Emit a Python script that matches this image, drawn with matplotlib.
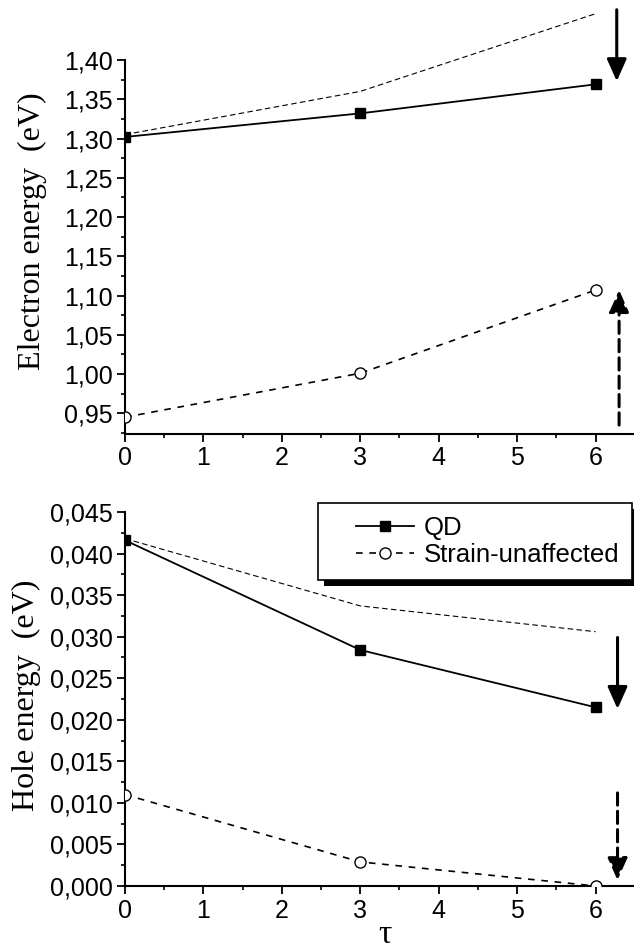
import matplotlib
matplotlib.use("Agg")
import matplotlib.pyplot as plt
from matplotlib.ticker import FuncFormatter, MultipleLocator
from matplotlib.patches import Rectangle
from matplotlib.transforms import IdentityTransform
from matplotlib.lines import Line2D
from matplotlib.legend_handler import HandlerLine2D

# ---------------- data ----------------
tau = [0, 3, 6]
elec_qd = [1.302, 1.332, 1.369]
elec_unaff = [0.945, 1.001, 1.107]
elec_ref = [1.305, 1.360, 1.459]

hole_qd = [0.0416, 0.0284, 0.0215]
hole_unaff = [0.0110, 0.0029, 0.0000]
hole_ref = [0.0418, 0.0337, 0.0306]

xticks = [0, 1, 2, 3, 4, 5, 6]
elec_yticks = [0.95, 1.00, 1.05, 1.10, 1.15, 1.20, 1.25, 1.30, 1.35, 1.40]
hole_yticks = [0.000, 0.005, 0.010, 0.015, 0.020, 0.025, 0.030, 0.035, 0.040, 0.045]
legend_labels = ["QD", "Strain-unaffected"]

SANS = "Liberation Sans"
SERIF = "Liberation Serif"
plt.rcParams['font.family'] = [SANS, 'DejaVu Sans']

W, H = 634, 952
fig = plt.figure(figsize=(W / 100, H / 100), dpi=100)

def px_axes(left, right, top, bottom):
    return fig.add_axes([left / W, 1 - bottom / H, (right - left) / W, (bottom - top) / H])

ax1 = px_axes(125, 634, 60, 434)
ax2 = px_axes(125, 634, 512, 886)

def comma_fmt(nd):
    return FuncFormatter(lambda v, p: f"{v:.{nd}f}".replace('.', ','))

def style(ax, yticks, ylim, nd):
    ax.set_xlim(0, 6.49)
    ax.set_ylim(*ylim)
    ax.set_xticks(xticks)
    ax.xaxis.set_minor_locator(MultipleLocator(0.5))
    ax.set_yticks(yticks)
    step = yticks[1] - yticks[0]
    ax.yaxis.set_minor_locator(MultipleLocator(step / 2))
    ax.yaxis.set_major_formatter(comma_fmt(nd))
    for s in ['top', 'right']:
        ax.spines[s].set_visible(False)
    for s in ['left', 'bottom']:
        ax.spines[s].set_linewidth(1.5)
    ax.tick_params(which='major', direction='out', length=6, width=1.3, labelsize=18, pad=3)
    ax.tick_params(which='minor', direction='out', length=3, width=1.2)
    for lab in ax.get_xticklabels() + ax.get_yticklabels():
        lab.set_fontfamily(SANS)
    ax.set_facecolor('none')

style(ax1, elec_yticks, (0.9236, 1.40), 2)
style(ax2, hole_yticks, (0.0, 0.045), 3)

def plot_panel(ax, qd, un, ref):
    ax.plot(tau, ref, color='black', lw=0.8, ls=(0, (5, 3)), clip_on=False, zorder=2)
    l1, = ax.plot(tau, qd, color='black', lw=1.3, ls='-', marker='s', ms=7,
                  mfc='black', mec='black', zorder=3)
    l2, = ax.plot(tau, un, color='black', lw=1.2, ls=(0, (4, 4)), marker='o', ms=8,
                  mfc='white', mec='black', mew=1.0, zorder=3)
    return l1, l2

plot_panel(ax1, elec_qd, elec_unaff, elec_ref)
l1, l2 = plot_panel(ax2, hole_qd, hole_unaff, hole_ref)

def arrow(ax, x, y0, y1, dashed):
    ax.annotate('', xy=(x, y1), xytext=(x, y0), annotation_clip=False,
                arrowprops=dict(arrowstyle='-|>,head_width=0.6,head_length=1.35',
                                color='black', lw=2.2,
                                linestyle=(0, (4, 2)) if dashed else '-',
                                shrinkA=0, shrinkB=0))

arrow(ax1, 6.27, 1.464, 1.373, False)
arrow(ax1, 6.30, 0.935, 1.107, True)
arrow(ax2, 6.28, 0.0299, 0.0213, False)
arrow(ax2, 6.28, 0.0112, 0.0007, True)

leg = ax2.legend([l1, l2], legend_labels, loc='upper right',
                 bbox_to_anchor=(0.996, 1.024), fontsize=18.5, frameon=True,
                 fancybox=False, handlelength=3.25, handletextpad=0.35,
                 borderpad=0.5, labelspacing=0.12, borderaxespad=0,
                 framealpha=1, facecolor='white', edgecolor='black',
                 handler_map={Line2D: HandlerLine2D(xpad=0.99)})
leg.get_frame().set_linewidth(1.2)
leg.set_zorder(10)
for t in leg.get_texts():
    t.set_fontfamily(SANS)

fig.canvas.draw()
bb = leg.get_window_extent()
ax2.add_patch(Rectangle((bb.x0 + 6, bb.y0 - 6), bb.width, bb.height,
                        transform=IdentityTransform(), facecolor='black',
                        edgecolor='none', clip_on=False, zorder=9))

fig.text(32 / W, 1 - 231 / H, "Electron energy  (eV)", rotation=90, fontsize=23,
         family=SERIF, ha='center', va='center')
fig.text(26 / W, 1 - 695 / H, "Hole energy  (eV)", rotation=90, fontsize=23,
         family=SERIF, ha='center', va='center')
fig.text(385 / W, 1 - 935 / H, "τ", fontsize=24, family=SERIF, ha='center', va='center')

fig.savefig("out.png", dpi=100)
